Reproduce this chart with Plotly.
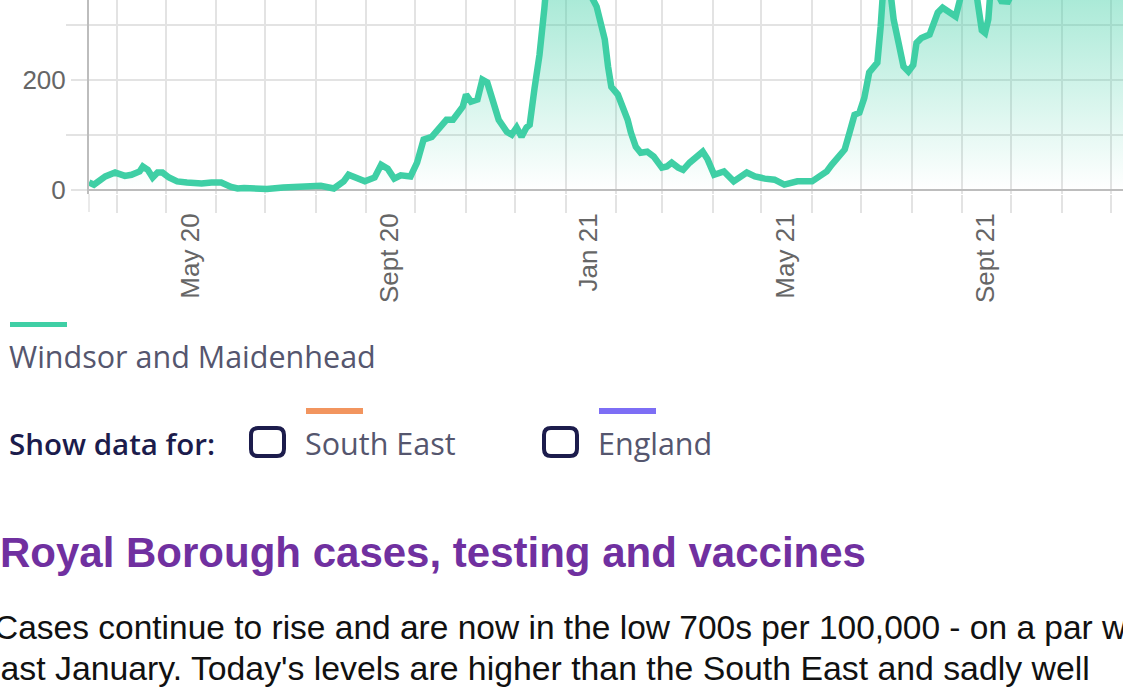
import plotly.graph_objects as go

# ---- data: 7-day case rate per 100,000, Windsor and Maidenhead ----
dates = [
    "2020-03-15", "2020-03-18", "2020-03-25", "2020-03-31", "2020-04-06", "2020-04-10",
    "2020-04-15", "2020-04-17", "2020-04-20", "2020-04-23", "2020-04-26", "2020-04-29",
    "2020-05-03", "2020-05-08", "2020-05-14", "2020-05-23", "2020-05-29", "2020-06-04",
    "2020-06-10", "2020-06-14", "2020-06-18", "2020-07-02", "2020-07-12", "2020-07-23",
    "2020-08-04", "2020-08-12", "2020-08-18", "2020-08-21", "2020-08-26", "2020-08-31",
    "2020-09-06", "2020-09-10", "2020-09-14", "2020-09-18", "2020-09-22", "2020-09-28",
    "2020-10-02", "2020-10-06", "2020-10-11", "2020-10-14", "2020-10-17", "2020-10-20",
    "2020-10-24", "2020-10-27", "2020-10-30", "2020-11-01", "2020-11-04", "2020-11-08",
    "2020-11-11", "2020-11-14", "2020-11-17", "2020-11-21", "2020-11-26", "2020-11-29",
    "2020-12-02", "2020-12-05", "2020-12-08", "2020-12-10", "2020-12-13", "2020-12-16",
    "2020-12-19", "2020-12-23", "2020-12-28", "2021-01-02", "2021-01-06", "2021-01-10",
    "2021-01-14", "2021-01-17", "2021-01-20", "2021-01-23", "2021-01-25", "2021-01-27",
    "2021-01-29", "2021-02-02", "2021-02-05", "2021-02-08", "2021-02-10", "2021-02-13",
    "2021-02-16", "2021-02-20", "2021-02-24", "2021-03-01", "2021-03-04", "2021-03-07",
    "2021-03-11", "2021-03-14", "2021-03-18", "2021-03-22", "2021-03-26", "2021-03-29",
    "2021-04-02", "2021-04-08", "2021-04-14", "2021-04-22", "2021-04-27", "2021-05-03",
    "2021-05-09", "2021-05-15", "2021-05-23", "2021-06-01", "2021-06-07", "2021-06-10",
    "2021-06-13", "2021-06-17", "2021-06-21", "2021-06-24", "2021-06-27", "2021-06-30",
    "2021-07-03", "2021-07-06", "2021-07-09", "2021-07-11", "2021-07-13", "2021-07-14",
    "2021-07-17", "2021-07-19", "2021-07-21", "2021-07-24", "2021-07-27", "2021-07-30",
    "2021-08-02", "2021-08-04", "2021-08-07", "2021-08-12", "2021-08-14", "2021-08-17",
    "2021-08-20", "2021-08-25", "2021-08-28", "2021-08-31", "2021-09-04", "2021-09-10",
    "2021-09-13", "2021-09-15", "2021-09-17", "2021-09-18", "2021-09-21", "2021-09-25",
    "2021-09-29", "2021-10-02", "2021-10-08", "2021-10-15", "2021-10-22", "2021-10-29",
    "2021-11-05", "2021-11-12", "2021-11-19", "2021-11-26", "2021-12-02", "2021-12-09",
]
rates = [
    13, 9, 24, 31, 25, 27,
    33, 42, 36, 22, 31, 31,
    22, 15, 13, 11, 13, 13,
    5, 2, 3, 1, 4, 6,
    7, 2, 15, 27, 22, 15,
    22, 45, 38, 20, 26, 24,
    49, 91, 96, 105, 118, 127,
    127, 140, 151, 173, 160, 164,
    200, 195, 164, 127, 105, 100,
    113, 96, 113, 118, 185, 245,
    330, 480, 720, 900, 950, 820,
    560, 350, 333, 296, 273, 224,
    187, 173, 151, 127, 104, 78,
    67, 69, 60, 40, 42, 49,
    40, 36, 49, 60, 69, 55,
    27, 33, 15, 31, 24, 20,
    18, 9, 15, 15, 27, 33,
    45, 60, 73, 104, 136, 140,
    167, 213, 222, 231, 296, 360,
    470, 360, 309, 267, 224, 215,
    227, 267, 276, 282, 300, 322,
    331, 322, 315, 350, 400, 350,
    290, 285, 310, 350, 365, 343,
    342, 360, 420, 480, 520, 470,
    430, 450, 500, 520, 600, 720,
]

x_tick_dates = ["2020-05-16", "2020-09-15", "2021-01-15", "2021-05-16", "2021-09-15"]
x_tick_labels = ["May 20", "Sept 20", "Jan 21", "May 21", "Sept 21"]

series_name = "Windsor and Maidenhead"
other_series = ["South East", "England"]

# ---- style ----
TEAL = "rgb(63,207,165)"
GRID = "#e3e3e3"
AXIS = "#bdbdbd"
NAVY = "#1c1c4c"
LEGEND_TXT = "#55566e"

FIG_W, FIG_H = 1123, 689
L, T = 89, 0
PW, PH = 1034, 194
B = T + PH


def px(x):
    return (x - L) / PW


def py(y):
    return (B - y) / PH


def rrect(x0, y0, x1, y1, r):
    pts = [
        ("M", [(x0 + r, y0)]), ("L", [(x1 - r, y0)]), ("Q", [(x1, y0), (x1, y0 + r)]),
        ("L", [(x1, y1 - r)]), ("Q", [(x1, y1), (x1 - r, y1)]), ("L", [(x0 + r, y1)]),
        ("Q", [(x0, y1), (x0, y1 - r)]), ("L", [(x0, y0 + r)]), ("Q", [(x0, y0), (x0 + r, y0)]),
    ]
    s = ""
    for cmd, ps in pts:
        s += cmd + " " + " ".join(f"{px(a):.5f},{py(b):.5f}" for a, b in ps) + " "
    return s + "Z"


fig = go.Figure()
fig.add_trace(go.Scatter(
    x=dates, y=rates, mode="lines", name=series_name,
    line=dict(color=TEAL, width=6.5),
    fill="tozeroy",
    fillgradient=dict(
        type="vertical",
        colorscale=[[0, "rgba(63,207,165,0)"], [1, "rgba(63,207,165,0.44)"]],
        start=0, stop=345,
    ),
    hoverinfo="skip",
))

tickfont = dict(family="Liberation Sans, Arial, sans-serif", size=26, color="#666666")

fig.update_xaxes(
    type="date",
    range=["2020-03-15", "2021-12-08 12:00"],
    tickmode="array", tickvals=x_tick_dates, ticktext=x_tick_labels,
    tickangle=-90, tickfont=tickfont,
    ticks="outside", ticklen=8, tickcolor="rgba(0,0,0,0)",
    showgrid=False, zeroline=False, showline=False,
    minor=dict(tick0="2020-04-01", dtick="M1", showgrid=True, gridcolor=GRID, gridwidth=1.5,
               ticks="outside", ticklen=18, tickcolor=GRID, tickwidth=1.5),
    automargin=False, fixedrange=True,
)
fig.update_yaxes(
    range=[-8, 345],
    tick0=0, dtick=200, tickfont=tickfont,
    ticks="outside", ticklen=16, tickcolor=GRID, tickwidth=1.5,
    showgrid=True, gridcolor=GRID, gridwidth=1.5,
    minor=dict(tick0=0, dtick=100, showgrid=True, gridcolor=GRID, gridwidth=1.5,
               ticks="outside", ticklen=21, tickcolor=GRID, tickwidth=1.5),
    zeroline=True, zerolinecolor=AXIS, zerolinewidth=2,
    showline=True, linecolor=AXIS, linewidth=2,
    automargin=False, fixedrange=True,
)

shapes = [
    # y-axis extension below the plot
    dict(type="line", xref="paper", yref="paper", x0=0, x1=0, y0=0, y1=py(212),
         line=dict(color=GRID, width=1.5)),
    # legend swatches
    dict(type="rect", xref="paper", yref="paper", x0=px(10), x1=px(67), y0=py(327), y1=py(322),
         fillcolor=TEAL, line=dict(width=0)),
    dict(type="rect", xref="paper", yref="paper", x0=px(306), x1=px(363), y0=py(414), y1=py(408),
         fillcolor="#f2955f", line=dict(width=0)),
    dict(type="rect", xref="paper", yref="paper", x0=px(599), x1=px(656), y0=py(414), y1=py(408),
         fillcolor="#7d6ef5", line=dict(width=0)),
    # checkboxes
    dict(type="path", xref="paper", yref="paper", path=rrect(251, 428, 284, 456, 7),
         line=dict(color=NAVY, width=4), fillcolor="white"),
    dict(type="path", xref="paper", yref="paper", path=rrect(544, 428, 577, 456, 7),
         line=dict(color=NAVY, width=4), fillcolor="white"),
]

legend_font = dict(family="Open Sans, Lato, sans-serif", size=30.5, color=LEGEND_TXT)
annotations = [
    dict(text=series_name, x=px(7), y=py(356), font=legend_font),
    dict(text="Show data for:", x=px(7), y=py(443),
         font=dict(family="Open Sans, Lato, sans-serif", size=29.5, color=NAVY, weight=600)),
    dict(text=other_series[0], x=px(303), y=py(443), font=legend_font),
    dict(text=other_series[1], x=px(596), y=py(443), font=legend_font),
    dict(text="Royal Borough cases, testing and vaccines", x=px(-2), y=py(552),
         font=dict(family="Liberation Sans, Arial, sans-serif", size=42, color="#7030a0", weight=700)),
    dict(text="Cases continue to rise and are now in the low 700s per 100,000 - on a par with",
         x=px(-8), y=py(627),
         font=dict(family="Liberation Sans, Arial, sans-serif", size=33.5, color="#111111")),
    dict(text="last January. Today's levels are higher than the South East and sadly well",
         x=px(-9), y=py(668),
         font=dict(family="Liberation Sans, Arial, sans-serif", size=33.8, color="#111111")),
]
for a in annotations:
    a.update(xref="paper", yref="paper", xanchor="left", yanchor="middle", showarrow=False)

fig.update_layout(
    width=FIG_W, height=FIG_H,
    margin=dict(l=L, r=FIG_W - L - PW, t=T, b=FIG_H - B, pad=0),
    paper_bgcolor="white", plot_bgcolor="white",
    showlegend=False,
    shapes=shapes, annotations=annotations,
)

fig.write_html(
    "out.html",
    config={"displayModeBar": False},
    post_script="document.body.style.margin='0';document.body.style.overflow='hidden';",
)
